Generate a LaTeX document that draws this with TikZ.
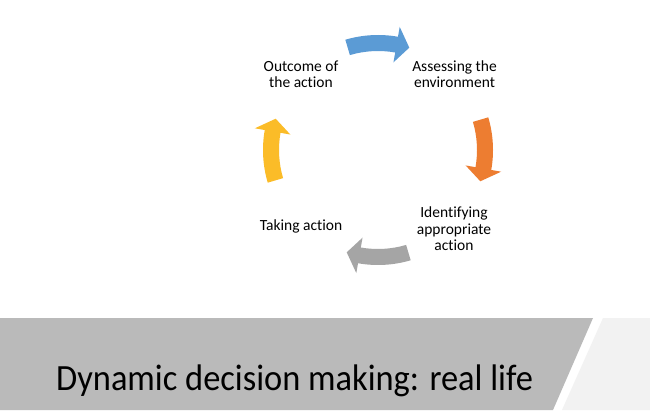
\documentclass[tikz,border=0pt]{standalone}
\usepackage{fontspec}
\setmainfont{Carlito}[Ligatures=NoCommon]
\newfontfamily\titlefont{Carlito}[FakeStretch=0.93,Ligatures=NoCommon]
\usetikzlibrary{calc}
\definecolor{cblue}{HTML}{5B9BD5}
\definecolor{corange}{HTML}{ED7D31}
\definecolor{cgray}{HTML}{A5A5A5}
\definecolor{cyellow}{HTML}{FBBC28}
\definecolor{banner}{HTML}{BABABA}
\definecolor{panel}{HTML}{F2F2F2}
\newcommand\cyclearrow[2]{%
  \begin{scope}[shift={(378,260)},rotate=#1]
    \fill[#2] (16.5:115pt) arc[start angle=16.5,end angle=-10,radius=115pt]
      -- (-10:125pt) -- (-17:107pt) -- (-10:89pt) -- (-10:99pt)
      arc[start angle=-10,end angle=16.5,radius=99pt] -- cycle;
  \end{scope}}
\begin{document}
\begin{tikzpicture}[x=1pt,y=1pt,
  lbl/.style={align=center,font=\fontsize{15.5}{16.5}\selectfont,text=black,inner sep=0pt},
  title/.style={anchor=base west,font=\titlefont\fontsize{37}{44}\selectfont,text=black,inner sep=0pt}]
\useasboundingbox (0,0) rectangle (650,410);
\fill[white] (0,0) rectangle (650,410);
% banner
\fill[banner] (0,0) -- (0,92) -- (593,92) -- (553,0) -- cycle;
\fill[panel] (562,0) -- (603,92) -- (650,92) -- (650,0) -- cycle;
\node[title] (ttl) at (56,20) {Dynamic decision making: real life};
% cycle arrows
\cyclearrow{90}{cblue}
\cyclearrow{0}{corange}
\cyclearrow{-90}{cgray}
\cyclearrow{180}{cyellow}
% labels
\node[lbl] (outcome) at (301,336) {Outcome of\\the action};
\node[lbl] (assess) at (454.5,336) {Assessing the\\environment};
\node[lbl] (ident) at (454,181) {Identifying\\appropriate\\action};
\node[lbl] (taking) at (301,184) {Taking action};
\end{tikzpicture}
\end{document}
